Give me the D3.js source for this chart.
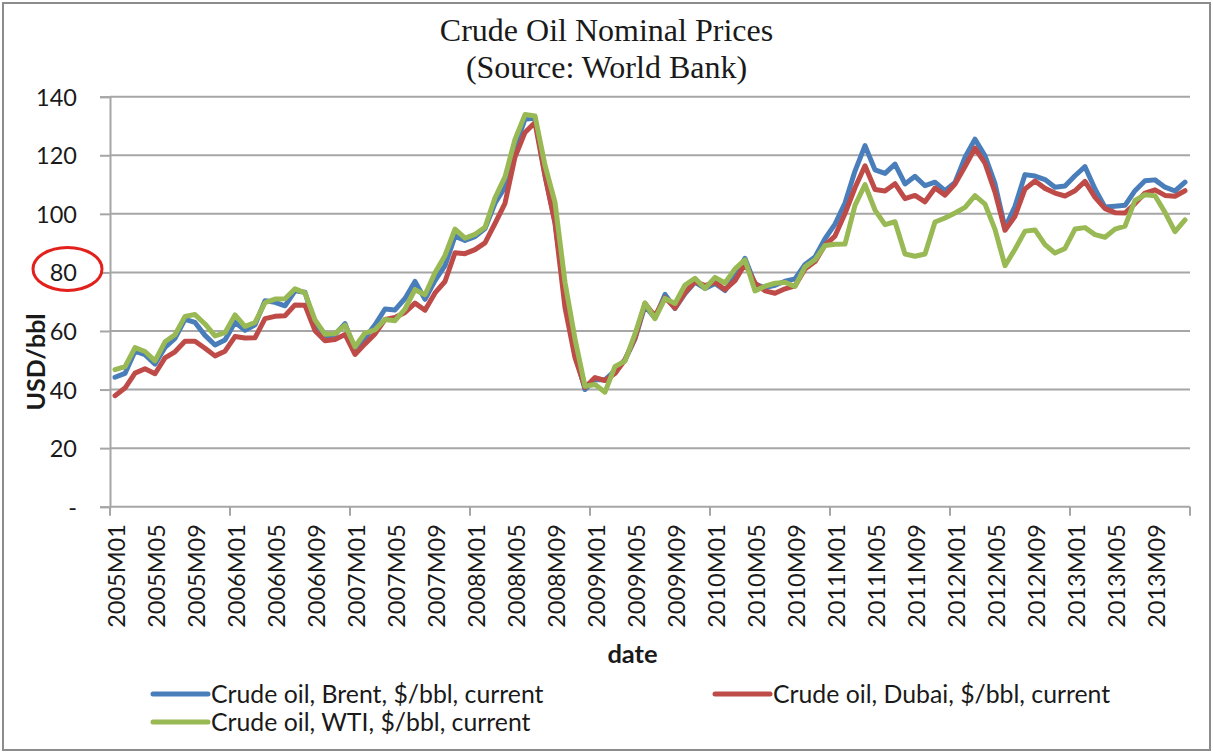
<!DOCTYPE html>
<html>
<head>
<meta charset="utf-8">
<script src="https://cdn.jsdelivr.net/npm/d3@7"></script>
<style>
  html, body { margin: 0; padding: 0; background: #fff; }
  svg { display: block; }
</style>
</head>
<body>
<svg id="chart" width="1213" height="752"></svg>
<script>
// ---------------- data ----------------
const years = [2005, 2006, 2007, 2008, 2009, 2010, 2011, 2012, 2013];
const monthCodes = ["01","02","03","04","05","06","07","08","09","10","11","12"];
const categories = years.flatMap(y => monthCodes.map(m => `${y}M${m}`));

const brent = [
  44.2, 45.5, 53.1, 51.9, 48.7, 54.4, 57.5, 64.0, 62.9, 58.5, 55.2, 56.9,
  63.0, 60.2, 62.1, 70.3, 69.8, 68.6, 73.7, 73.2, 62.0, 57.8, 58.8, 62.5,
  53.7, 57.6, 62.1, 67.5, 67.2, 71.1, 76.9, 70.8, 77.2, 82.3, 92.4, 90.9,
  92.2, 95.0, 103.6, 109.1, 122.8, 132.3, 132.7, 113.2, 97.2, 71.6, 52.5, 40.0,
  43.4, 43.3, 46.5, 50.2, 57.3, 68.6, 64.4, 72.5, 67.7, 72.8, 76.7, 74.5,
  76.2, 73.8, 78.8, 84.8, 76.0, 74.8, 75.6, 77.0, 77.8, 82.7, 85.3, 91.5,
  96.5, 103.7, 114.6, 123.3, 115.0, 113.8, 117.0, 110.2, 112.8, 109.6, 110.8, 107.9,
  110.7, 119.3, 125.5, 119.8, 110.3, 95.2, 102.6, 113.4, 112.9, 111.7, 109.1, 109.5,
  113.0, 116.1, 108.5, 102.3, 102.6, 102.9, 107.9, 111.3, 111.6, 109.1, 107.8, 110.8
];
const dubai = [
  37.9, 40.5, 45.6, 47.1, 45.4, 50.8, 52.9, 56.5, 56.5, 54.1, 51.5, 53.1,
  58.1, 57.6, 57.7, 64.2, 65.0, 65.2, 68.9, 68.8, 60.1, 56.7, 57.1, 58.8,
  52.0, 55.6, 59.0, 63.9, 64.6, 66.3, 69.5, 67.1, 73.0, 76.9, 86.7, 86.4,
  87.8, 90.1, 96.7, 103.6, 119.4, 127.8, 131.2, 112.9, 96.8, 68.0, 50.9, 40.7,
  44.1, 43.1, 45.5, 50.2, 57.6, 69.4, 65.1, 71.4, 67.8, 73.1, 76.9, 75.5,
  76.7, 74.1, 77.2, 82.9, 76.4, 73.7, 72.9, 74.4, 75.4, 81.2, 83.7, 89.3,
  92.4, 100.1, 108.9, 116.4, 108.3, 107.8, 110.3, 105.2, 106.3, 104.1, 108.8, 106.4,
  110.2, 116.2, 122.4, 117.3, 107.4, 94.4, 99.2, 108.5, 111.2, 108.7, 107.1, 106.1,
  107.9, 111.1, 105.6, 101.8, 100.4, 100.3, 103.5, 107.1, 108.2, 106.3, 106.0, 107.9
];
const wti = [
  46.8, 47.8, 54.3, 53.0, 49.8, 56.3, 58.7, 65.0, 65.6, 62.4, 58.3, 59.4,
  65.5, 61.6, 62.9, 69.7, 70.9, 71.0, 74.4, 73.0, 63.8, 58.9, 59.1, 62.0,
  54.6, 59.3, 60.4, 63.9, 63.5, 67.5, 74.1, 72.4, 79.9, 85.8, 94.8, 91.7,
  93.0, 95.4, 105.5, 112.6, 125.4, 133.9, 133.4, 116.6, 103.9, 76.6, 57.3, 41.1,
  41.7, 39.1, 47.9, 49.7, 59.0, 69.6, 64.2, 71.1, 69.4, 75.7, 78.0, 74.5,
  78.3, 76.4, 81.2, 84.3, 73.7, 75.3, 76.3, 76.6, 75.2, 81.9, 84.3, 89.2,
  89.6, 89.7, 102.9, 110.0, 101.3, 96.3, 97.3, 86.3, 85.5, 86.3, 97.2, 98.6,
  100.3, 102.2, 106.2, 103.3, 94.7, 82.3, 87.9, 94.1, 94.5, 89.5, 86.6, 88.2,
  94.8, 95.3, 92.9, 92.0, 94.8, 95.8, 104.6, 106.5, 106.2, 100.5, 93.9, 97.9
];

const seriesNames = [
  "Crude oil, Brent, $/bbl, current",
  "Crude oil, Dubai, $/bbl, current",
  "Crude oil, WTI, $/bbl, current"
];
const yTickValues = [0, 20, 40, 60, 80, 100, 120, 140];
const yTickLabels = ["-", "20", "40", "60", "80", "100", "120", "140"];
const highlightedTick = 80;
const titleLines = ["Crude Oil Nominal Prices", "(Source: World Bank)"];
const xAxisTitle = "date";
const yAxisTitle = "USD/bbl";

// ---------------- styling / layout ----------------
const colors = ["#4A7EBB", "#BE4B48", "#98B954"];
const gridColor = "#a6a6a6";
const textColor = "#1a1a1a";
const sansFont = "Lato, 'Open Sans', sans-serif";
const serifFont = "'Liberation Serif', 'DejaVu Serif', serif";

const plot = { left: 110, right: 1190, top: 96.7, bottom: 506.7 };

const svg = d3.select("#chart");

// outer frame
svg.append("rect")
  .attr("x", 3).attr("y", 3).attr("width", 1207).attr("height", 747)
  .attr("fill", "#fff").attr("stroke", "#8c8c8c").attr("stroke-width", 2);

const x = d3.scaleBand().domain(categories).range([plot.left, plot.right]).padding(0);
const y = d3.scaleLinear().domain([0, 140]).range([plot.bottom, plot.top]);
const xc = c => x(c) + x.bandwidth() / 2;

// gridlines
svg.append("g").selectAll("line")
  .data(yTickValues.filter(v => v > 0))
  .join("line")
  .attr("x1", plot.left).attr("x2", plot.right)
  .attr("y1", d => y(d)).attr("y2", d => y(d))
  .attr("stroke", gridColor).attr("stroke-width", 2);

// y axis
const yAxis = d3.axisLeft(y).tickValues(yTickValues)
  .tickFormat((d, i) => yTickLabels[i]).tickSize(10).tickPadding(0);
const gy = svg.append("g").attr("transform", `translate(${plot.left},0)`).call(yAxis);
gy.select(".domain").attr("stroke", gridColor).attr("stroke-width", 2);
gy.selectAll(".tick line").attr("stroke", gridColor).attr("stroke-width", 2);
gy.selectAll(".tick text")
  .attr("x", -33).attr("dy", "0.36em")
  .attr("font-family", sansFont).attr("font-size", 23.5).attr("fill", textColor)
  .attr("text-anchor", "end");

// red ellipse highlighting the 80 tick label
svg.append("ellipse")
  .attr("cx", 67.5).attr("cy", y(highlightedTick) - 3.5)
  .attr("rx", 34.5).attr("ry", 21.5)
  .attr("fill", "none").attr("stroke", "#e3211c").attr("stroke-width", 3);

// x axis (ticks every 12 months, at band boundaries)
const tickBounds = d3.range(0, categories.length + 1, 12)
  .map(i => plot.left + i * x.bandwidth());
const gx = svg.append("g");
gx.append("line")
  .attr("x1", plot.left).attr("x2", plot.right)
  .attr("y1", plot.bottom).attr("y2", plot.bottom)
  .attr("stroke", gridColor).attr("stroke-width", 2);
gx.selectAll("line.tick").data(tickBounds).join("line").attr("class", "tick")
  .attr("x1", d => d).attr("x2", d => d)
  .attr("y1", plot.bottom).attr("y2", plot.bottom + 9)
  .attr("stroke", gridColor).attr("stroke-width", 2);
const xLabelCats = categories.filter((c, i) => i % 4 === 0);
gx.selectAll("text").data(xLabelCats).join("text")
  .attr("transform", d => `translate(${xc(d) + 10},${plot.bottom + 17.5}) rotate(-90)`)
  .attr("text-anchor", "end")
  .attr("font-family", sansFont).attr("font-size", 23.5).attr("fill", textColor)
  .text(d => d);

// lines
const lineGen = d3.line()
  .x((d, i) => xc(categories[i]))
  .y(d => y(d));
const allSeries = [brent, dubai, wti];
svg.append("g").selectAll("path").data(allSeries).join("path")
  .attr("d", d => lineGen(d))
  .attr("fill", "none")
  .attr("stroke", (d, i) => colors[i])
  .attr("stroke-width", 5)
  .attr("stroke-linejoin", "round")
  .attr("stroke-linecap", "round");

// titles
svg.append("g").selectAll("text").data(titleLines).join("text")
  .attr("x", 606.5).attr("y", (d, i) => 41 + i * 37)
  .attr("text-anchor", "middle")
  .attr("font-family", serifFont).attr("font-size", 32).attr("fill", textColor)
  .text(d => d);

svg.append("text")
  .attr("transform", "translate(45,362) rotate(-90)")
  .attr("text-anchor", "middle")
  .attr("font-family", sansFont).attr("font-weight", "bold").attr("font-size", 25)
  .attr("fill", textColor)
  .text(yAxisTitle);

svg.append("text")
  .attr("x", 632.5).attr("y", 663)
  .attr("text-anchor", "middle")
  .attr("font-family", sansFont).attr("font-weight", "bold").attr("font-size", 25.5)
  .attr("fill", textColor)
  .text(xAxisTitle);

// legend
const legendPos = [
  { x: 153, y: 694 },
  { x: 715, y: 694 },
  { x: 153, y: 722 }
];
const lg = svg.append("g").selectAll("g").data(seriesNames).join("g")
  .attr("transform", (d, i) => `translate(${legendPos[i].x},${legendPos[i].y})`);
lg.append("line")
  .attr("x1", 0).attr("x2", 55).attr("y1", 0).attr("y2", 0)
  .attr("stroke", (d, i) => colors[i]).attr("stroke-width", 5)
  .attr("stroke-linecap", "round");
lg.append("text")
  .attr("x", 58).attr("y", 9)
  .attr("font-family", sansFont).attr("font-size", 24.8).attr("fill", textColor)
  .text(d => d);
</script>
</body>
</html>
